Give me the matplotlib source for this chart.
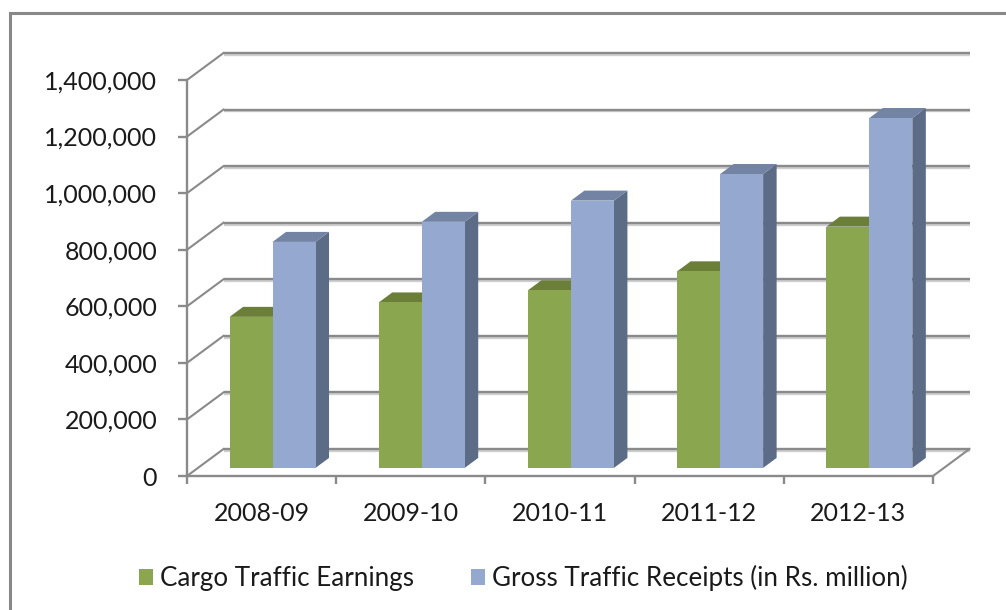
import matplotlib
matplotlib.use("Agg")
import matplotlib.pyplot as plt
from matplotlib.patches import Polygon, Patch, Rectangle
from matplotlib.ticker import FuncFormatter
import matplotlib.patheffects as pe

# ---- data ----
categories = ["2008-09", "2009-10", "2010-11", "2011-12", "2012-13"]
cargo_earnings = [534000, 585000, 628000, 695000, 853000]
gross_receipts = [799000, 870000, 945000, 1039000, 1237000]
series_names = ["Cargo Traffic Earnings", "Gross Traffic Receipts (in Rs. million)"]
y_ticks = [0, 200000, 400000, 600000, 800000, 1000000, 1200000, 1400000]

# ---- style ----
plt.rcParams['font.family'] = ['Lato', 'DejaVu Sans']
FS = 18
LFS = 18.7
GRID = "#8a8a8a"
front_cols = ["#8aa64f", "#95a9d0"]
top_cols = ["#6b7f39", "#7283a4"]
side_cols = ["#5e7031", "#5c6b86"]

W, H = 1006, 610
fig = plt.figure(figsize=(W / 100, H / 100), dpi=100)
fig.patch.set_facecolor("white")

# front plane of the plot area (pixels)
left_px, right_px, bot_px, top_px = 187, 933, 476, 80
ax = fig.add_axes([left_px / W, (H - bot_px) / H,
                   (right_px - left_px) / W, (bot_px - top_px) / H])
n = len(categories)
ymax = y_ticks[-1]
ax.set_xlim(0, n)
ax.set_ylim(0, ymax)
ax.patch.set_visible(False)

# depth offset (full depth) converted to data units
kx = (right_px - left_px) / n
ky = (bot_px - top_px) / ymax
DX = 36.5 / kx
DY = 27.0 / ky

shadow = [pe.SimpleLineShadow(offset=(0, -1.3), shadow_color="#b0b0b0", alpha=0.6), pe.Normal()]

# back wall gridlines + left wall diagonals
for v in y_ticks:
    ax.plot([DX, n + DX], [v + DY, v + DY], color=GRID, lw=1.7, zorder=1,
            clip_on=False, solid_capstyle="butt", path_effects=shadow)
    ax.plot([0, DX], [v, v + DY], color=GRID, lw=1.5, zorder=1, clip_on=False)
# floor right edge
ax.plot([n, n + DX], [0, DY], color=GRID, lw=1.5, zorder=1, clip_on=False)

# bars
w = 0.288
f0, f1 = 0.30, 0.67
for i in range(n):
    for s, vals in enumerate([cargo_earnings, gross_receipts]):
        v = vals[i]
        x0 = i + 0.5 - w + s * w
        ax0, ay0 = x0 + f0 * DX, f0 * DY
        bx, by = f1 * DX - f0 * DX, f1 * DY - f0 * DY
        front = [(ax0, ay0), (ax0 + w, ay0), (ax0 + w, ay0 + v), (ax0, ay0 + v)]
        top = [(ax0, ay0 + v), (ax0 + w, ay0 + v), (ax0 + w + bx, ay0 + v + by), (ax0 + bx, ay0 + v + by)]
        side = [(ax0 + w, ay0), (ax0 + w + bx, ay0 + by), (ax0 + w + bx, ay0 + v + by), (ax0 + w, ay0 + v)]
        z = 3 + i * 2 + s
        for pts, col in [(side, side_cols[s]), (top, top_cols[s]), (front, front_cols[s])]:
            ax.add_patch(Polygon(pts, closed=True, fc=col, ec="none", zorder=z, clip_on=False))

# axes spines (front)
for sp in ["top", "right"]:
    ax.spines[sp].set_visible(False)
for sp in ["left", "bottom"]:
    ax.spines[sp].set_color(GRID)
    ax.spines[sp].set_linewidth(1.7)
    ax.spines[sp].set_zorder(2)

ax.set_yticks(y_ticks)
ax.yaxis.set_major_formatter(FuncFormatter(lambda v, p: f"{int(v):,}"))
ax.tick_params(axis="y", length=6.5, width=1.7, color=GRID, pad=15,
               labelsize=FS, labelcolor="#1a1a1a")

ax.set_xticks(range(n + 1))
ax.set_xticklabels([""] * (n + 1))
ax.set_xticks([i + 0.5 for i in range(n)], minor=True)
ax.set_xticklabels(categories, minor=True)
ax.tick_params(axis="x", which="major", length=6, width=1.7, color=GRID)
ax.tick_params(axis="x", which="minor", length=0, pad=19, labelsize=FS, labelcolor="#1a1a1a")

# legend
handles = [Patch(fc=front_cols[0], ec="none"), Patch(fc=front_cols[1], ec="none")]
fig.legend(handles, series_names, loc="center", bbox_to_anchor=(523 / W, 32 / H),
           ncol=2, frameon=False, fontsize=LFS, handlelength=0.54, handleheight=0.54,
           handletextpad=0.27, columnspacing=2.2, labelcolor="#1a1a1a")

# chart border
fig.patches.append(Rectangle((9.5 / W, -0.1), 1.2, (H - 13.5) / H + 0.1,
                             transform=fig.transFigure, fill=False,
                             ec="#888888", lw=2.2, zorder=0))

fig.savefig("out.png", dpi=100, facecolor="white")
